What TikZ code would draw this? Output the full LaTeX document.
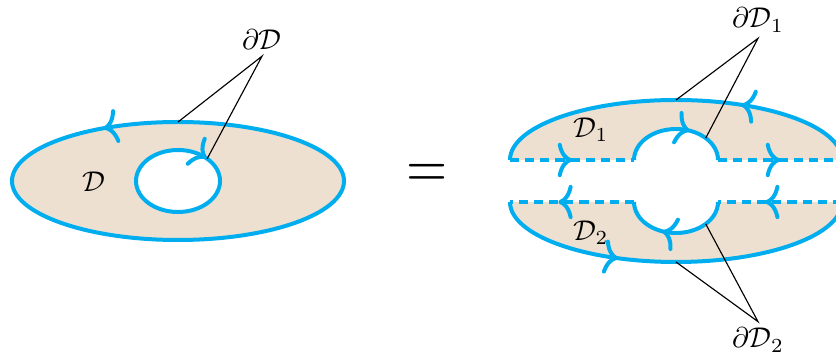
\documentclass[tikz,border=0pt]{standalone}
\usepackage{amsmath,amssymb}
\usepackage{tikz}
\usetikzlibrary{arrows.meta,decorations.markings,calc}
\definecolor{rimblue}{RGB}{0,174,239}
\definecolor{diskbeige}{RGB}{237,224,209}

\begin{document}
\begin{tikzpicture}[x=0.35pt, y=0.35pt,
    rim/.style={draw=rimblue, line width=1.4pt},
    seam/.style={draw=rimblue, line width=1.4pt, dash pattern=on 3.2pt off 2.1pt},
    tip at/.style={postaction={decorate, decoration={markings,
        mark=at position #1 with {\arrow[solid]{>}}}}},
    lbl/.style={inner sep=2pt},
    >={To[length=5pt, width=12pt, round]}
]
\clip (0,0) rectangle (836,360);
% left disk with one hole
\coordinate (lc) at (178,179);
\fill[diskbeige, even odd rule] (lc) ellipse [x radius=166, y radius=59]
    (lc) ellipse [x radius=42, y radius=31];
\draw[rim, tip at=0.35] (lc) ellipse [x radius=166, y radius=59];
\draw[rim, tip at=0.13] (lc) ++(90:42 and 31)
    arc[start angle=90, end angle=-270, x radius=42, y radius=31];
\coordinate (lo) at ($(lc)+(90:166 and 59)$);
\coordinate (lh) at ($(lc)+(46:42 and 31)$);
\node (dlab) at (94,178) {$\mathcal{D}$};
\node[lbl] (bdlab) at (262,320) {$\partial\mathcal{D}$};
\draw[thin] (lo) -- (bdlab.south) -- (lh);

\node (eq) at (427,184) {\scalebox{1.85}[2.2]{$=$}};

% right disk cut in two halves
\coordinate (uc) at (676,200);
\coordinate (dc) at (676,158);
\coordinate (ul) at ($(uc)+(-166,0)$);
\coordinate (uhl) at ($(uc)+(-42,0)$);
\coordinate (uhr) at ($(uc)+(42,0)$);
\coordinate (ur) at ($(uc)+(166,0)$);
\coordinate (dl) at ($(dc)+(-166,0)$);
\coordinate (dhl) at ($(dc)+(-42,0)$);
\coordinate (dhr) at ($(dc)+(42,0)$);
\coordinate (dr) at ($(dc)+(166,0)$);

\fill[diskbeige] (ul) arc[start angle=180, end angle=0, x radius=166, y radius=60]
    -- (uhr) arc[start angle=0, end angle=180, x radius=42, y radius=31] -- cycle;
\fill[diskbeige] (dl) arc[start angle=180, end angle=360, x radius=166, y radius=60]
    -- (dhr) arc[start angle=0, end angle=-180, x radius=42, y radius=31] -- cycle;

\draw[rim, tip at=0.325] (ur) arc[start angle=0, end angle=180, x radius=166, y radius=60];
\draw[rim, tip at=0.62] (uhl) arc[start angle=180, end angle=0, x radius=42, y radius=31];
\draw[seam, tip at=0.5] (ul) -- (uhl);
\draw[seam, tip at=0.5] (uhr) -- (ur);

\draw[rim, tip at=0.345] (dl) arc[start angle=180, end angle=360, x radius=166, y radius=60];
\draw[rim, tip at=0.62] (dhr) arc[start angle=0, end angle=-180, x radius=42, y radius=31];
\draw[seam, tip at=0.62] (dr) -- (dhr);
\draw[seam, tip at=0.61] (dhl) -- (dl);

\coordinate (uo) at ($(uc)+(90:166 and 60)$);
\coordinate (uh) at ($(uc)+(45:42 and 31)$);
\coordinate (do) at ($(dc)+(270:166 and 60)$);
\coordinate (dh) at ($(dc)+(-45:42 and 31)$);

\node (d1lab) at (591,230) {$\mathcal{D}_1$};
\node (d2lab) at (591,127) {$\mathcal{D}_2$};
\node[lbl] (bd1lab) at (758,340) {$\partial\mathcal{D}_1$};
\node[lbl] (bd2lab) at (758,20) {$\partial\mathcal{D}_2$};
\draw[thin] (uo) -- (bd1lab.south) -- (uh);
\draw[thin] (do) -- (bd2lab.north) -- (dh);
\end{tikzpicture}
\end{document}
